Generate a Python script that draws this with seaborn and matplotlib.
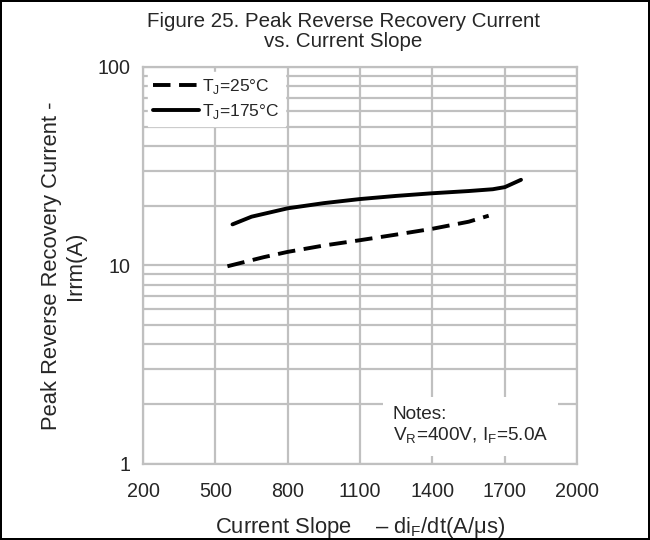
import numpy as np
import pandas as pd
import seaborn as sns
import matplotlib.pyplot as plt
from matplotlib.ticker import FixedLocator, NullFormatter, LogLocator

# valores
slope_25 = [550, 700, 800, 950, 1100, 1250, 1400, 1550, 1633]
irrm_25 = [9.9, 11.0, 11.7, 12.6, 13.4, 14.3, 15.3, 16.6, 17.8]
slope_175 = [571, 650, 800, 950, 1100, 1250, 1400, 1550, 1650, 1700, 1767]
irrm_175 = [16.1, 17.6, 19.4, 20.6, 21.6, 22.4, 23.1, 23.7, 24.2, 24.8, 27.0]
labels = ["T$_\\mathregular{J}$=25°C", "T$_\\mathregular{J}$=175°C"]
x_ticks = [200, 500, 800, 1100, 1400, 1700, 2000]

df = pd.concat([
    pd.DataFrame({"slope": slope_25, "irrm": irrm_25, "tj": labels[0]}),
    pd.DataFrame({"slope": slope_175, "irrm": irrm_175, "tj": labels[1]}),
])

sns.set_style("white")
plt.rcParams["font.family"] = ["Liberation Sans", "DejaVu Sans"]
plt.rcParams["mathtext.fontset"] = "custom"
plt.rcParams["mathtext.rm"] = "Liberation Sans"

fig = plt.figure(figsize=(6.5, 5.4), dpi=100)
fig.patch.set_edgecolor("black")
fig.patch.set_linewidth(1.5)
ax = fig.add_axes([0.22, 0.141, 0.668, 0.735])

sns.lineplot(data=df, x="slope", y="irrm", hue="tj", style="tj",
             palette=["black", "black"], dashes=[(4.5, 2.2), ""],
             linewidth=2.8, ax=ax, sort=False)

ax.set_yscale("log")
ax.set_xlim(200, 2000)
ax.set_ylim(1, 100)
ax.xaxis.set_major_locator(FixedLocator(x_ticks))
ax.yaxis.set_major_locator(FixedLocator([1, 10, 100]))
ax.yaxis.set_major_formatter(plt.FuncFormatter(lambda v, p: f"{v:g}"))
ax.yaxis.set_minor_locator(LogLocator(base=10, subs=np.arange(2, 10)))
ax.yaxis.set_minor_formatter(NullFormatter())
ax.grid(which="both", color="#c0c0c0", linewidth=1.6)
ax.set_axisbelow(True)
for s in ax.spines.values():
    s.set_color("#c0c0c0")
    s.set_linewidth(1.6)
ax.tick_params(axis="x", which="both", length=0, labelsize=14.2, pad=13)
ax.tick_params(axis="y", which="both", length=0, labelsize=14.2, pad=9)

ax.set_xlabel("Current Slope    \u2013 di$_\\mathregular{F}$/dt(A/\u03bcs)", fontsize=15.8, labelpad=10)
ax.set_ylabel("Peak Reverse Recovery Current -\nIrrm(A)", fontsize=15.8, labelpad=8)

leg = ax.legend(loc="upper left", fontsize=12.5, frameon=True, fancybox=False,
                edgecolor="white", framealpha=1, handlelength=2.6,
                borderaxespad=0.3, labelspacing=0.3, handletextpad=0.2,
                borderpad=0.3)

ax.text(0.575, 0.045, "Notes:\nV$_\\mathregular{R}$=400V, I$_\\mathregular{F}$=5.0A",
        transform=ax.transAxes, fontsize=13.7, ha="left", va="bottom", linespacing=1.2,
        bbox=dict(facecolor="white", edgecolor="none", pad=7))

fig.text(0.528, 0.978, "Figure 25. Peak Reverse Recovery Current\nvs. Current Slope",
         ha="center", va="top", fontsize=14.8, linespacing=1.1)

fig.savefig("out.png", dpi=100, edgecolor=fig.get_edgecolor())
